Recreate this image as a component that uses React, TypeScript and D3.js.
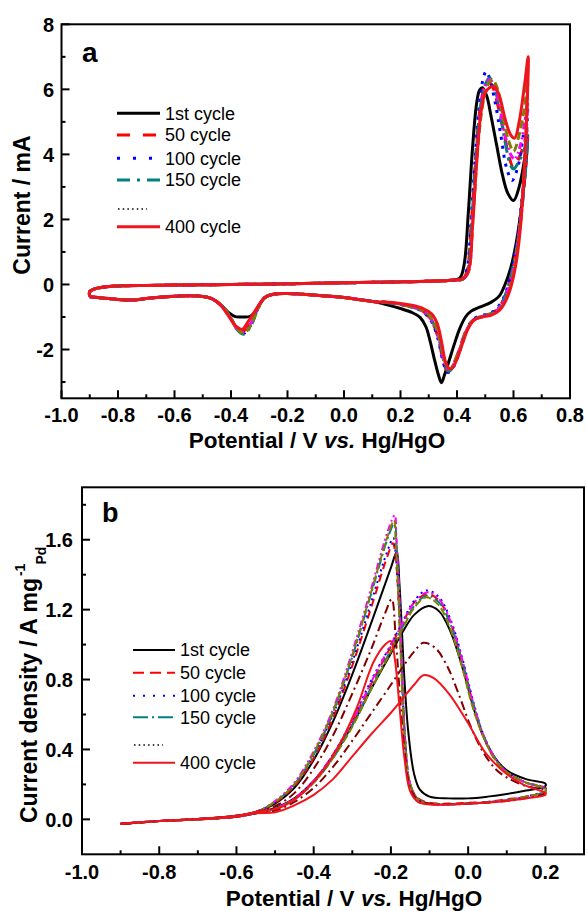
import React, { useEffect } from 'react';
import * as d3 from 'd3';

type P = [number, number];

// ---------------- Panel a : CV in KOH (Current / mA) ----------------
const aXTicks = [-1.0, -0.8, -0.6, -0.4, -0.2, 0.0, 0.2, 0.4, 0.6, 0.8];
const aXMinor = [-0.9, -0.7, -0.5, -0.3, -0.1, 0.1, 0.3, 0.5, 0.7];
const aYTicks = [-2, 0, 2, 4, 6, 8];
const aYMinor = [-3, -1, 1, 3, 5, 7];

const aAnodicBase: P[] = [[-0.9,-0.37],[-0.9,-0.22],[-0.88,-0.13],[-0.84,-0.07],[-0.78,-0.04],[-0.7,-0.03],[-0.6,-0.02],[-0.5,-0.01],[-0.4,0.0],[-0.3,0.01],[-0.2,0.02],[-0.1,0.035],[0,0.05],[0.1,0.065],[0.2,0.08],[0.3,0.1],[0.38,0.13]];
const aReturnMid: P[] = [[0.1,-0.52],[0.05,-0.46],[0,-0.4],[-0.1,-0.33],[-0.2,-0.28],[-0.25,-0.3]];
const aReturnTail: P[] = [[-0.5,-0.37],[-0.55,-0.35],[-0.6,-0.36],[-0.65,-0.39],[-0.7,-0.43],[-0.75,-0.48],[-0.8,-0.46],[-0.85,-0.42],[-0.9,-0.38]];

const a1stAnodic: P[] = [[0.41,0.2],[0.425,0.6],[0.44,2.2],[0.455,4.2],[0.47,5.6],[0.48,5.98],[0.49,6.05],[0.505,5.8],[0.52,5.2],[0.54,4.3],[0.56,3.4],[0.58,2.8],[0.6,2.58],[0.62,3.0],[0.64,3.9],[0.65,4.5]];
const a1stCathodic: P[] = [[0.645,3.8],[0.63,2.5],[0.61,1.3],[0.59,0.5],[0.57,0.0],[0.55,-0.35],[0.52,-0.55],[0.48,-0.7],[0.45,-0.82],[0.43,-1.0],[0.41,-1.35],[0.39,-1.85],[0.37,-2.4],[0.355,-2.8],[0.345,-3.02],[0.335,-2.8],[0.32,-2.3],[0.305,-1.75],[0.29,-1.3],[0.27,-1.02],[0.24,-0.86],[0.2,-0.74],[0.15,-0.62]];
const a1stDip: P[] = [[-0.28,-0.4],[-0.3,-0.62],[-0.32,-0.9],[-0.335,-0.99],[-0.36,-1.0],[-0.385,-0.99],[-0.41,-0.85],[-0.44,-0.6],[-0.47,-0.43]];

const a50Anodic: P[] = [[0.42,0.16],[0.435,0.4],[0.45,1.8],[0.465,3.8],[0.48,5.3],[0.495,6.0],[0.51,6.25],[0.525,6.1],[0.545,5.5],[0.565,4.7],[0.585,3.9],[0.6,3.6],[0.62,3.9],[0.64,4.4],[0.65,4.8]];
const a50Cathodic: P[] = [[0.646,4.0],[0.635,2.8],[0.62,1.6],[0.6,0.6],[0.58,-0.1],[0.56,-0.55],[0.53,-0.85],[0.5,-0.95],[0.47,-1.02],[0.45,-1.15],[0.43,-1.45],[0.41,-1.95],[0.39,-2.4],[0.375,-2.62],[0.365,-2.65],[0.35,-2.3],[0.335,-1.7],[0.315,-1.2],[0.29,-0.9],[0.26,-0.74],[0.21,-0.63],[0.16,-0.56]];
const a50Dip: P[] = [[-0.28,-0.4],[-0.305,-0.72],[-0.33,-1.18],[-0.36,-1.45],[-0.38,-1.35],[-0.405,-1.0],[-0.435,-0.65],[-0.47,-0.43]];

const a100Anodic: P[] = [[0.42,0.16],[0.435,0.45],[0.45,2.0],[0.465,4.0],[0.48,5.6],[0.492,6.3],[0.503,6.55],[0.515,6.35],[0.535,5.6],[0.555,4.6],[0.575,3.6],[0.595,3.2],[0.615,3.6],[0.635,4.6],[0.65,5.5]];
const a100Cathodic: P[] = [[0.646,4.6],[0.635,3.2],[0.62,1.8],[0.6,0.7],[0.58,-0.05],[0.56,-0.5],[0.53,-0.82],[0.5,-0.93],[0.47,-1.0],[0.45,-1.15],[0.43,-1.5],[0.41,-2.05],[0.39,-2.5],[0.375,-2.68],[0.365,-2.7],[0.35,-2.35],[0.335,-1.75],[0.315,-1.22],[0.29,-0.92],[0.26,-0.75],[0.21,-0.63],[0.16,-0.56]];
const a100Dip: P[] = [[-0.28,-0.4],[-0.305,-0.75],[-0.33,-1.25],[-0.355,-1.5],[-0.375,-1.4],[-0.4,-1.05],[-0.43,-0.68],[-0.47,-0.43]];

const a150Anodic: P[] = [[0.42,0.16],[0.437,0.4],[0.452,1.9],[0.467,3.9],[0.482,5.4],[0.5,6.15],[0.515,6.35],[0.53,6.15],[0.55,5.4],[0.57,4.4],[0.588,3.7],[0.6,3.55],[0.62,3.8],[0.64,4.2],[0.65,4.6]];
const a150Cathodic: P[] = [[0.646,3.9],[0.635,2.8],[0.62,1.6],[0.6,0.6],[0.58,-0.1],[0.56,-0.55],[0.53,-0.86],[0.5,-0.96],[0.47,-1.03],[0.45,-1.17],[0.43,-1.5],[0.41,-2.0],[0.39,-2.45],[0.378,-2.63],[0.37,-2.66],[0.355,-2.4],[0.34,-1.8],[0.32,-1.25],[0.295,-0.93],[0.265,-0.76],[0.21,-0.63],[0.16,-0.56]];
const a150Dip: P[] = [[-0.28,-0.4],[-0.305,-0.76],[-0.33,-1.28],[-0.355,-1.53],[-0.375,-1.42],[-0.4,-1.05],[-0.43,-0.68],[-0.47,-0.43]];

const a200Anodic: P[] = [[0.42,0.16],[0.44,0.4],[0.455,1.9],[0.47,3.9],[0.485,5.4],[0.5,6.1],[0.515,6.3],[0.53,6.15],[0.55,5.5],[0.57,4.6],[0.59,4.0],[0.605,3.85],[0.625,4.3],[0.64,5.0],[0.65,5.7]];
const a200Cathodic: P[] = [[0.646,4.7],[0.636,3.2],[0.622,1.8],[0.603,0.6],[0.583,-0.1],[0.563,-0.55],[0.533,-0.86],[0.5,-0.96],[0.47,-1.03],[0.45,-1.17],[0.43,-1.48],[0.41,-1.98],[0.39,-2.42],[0.378,-2.6],[0.37,-2.62],[0.355,-2.38],[0.34,-1.78],[0.32,-1.24],[0.295,-0.92],[0.265,-0.75],[0.21,-0.62],[0.16,-0.56]];
const a200Dip: P[] = [[-0.28,-0.4],[-0.305,-0.72],[-0.33,-1.2],[-0.358,-1.46],[-0.378,-1.36],[-0.403,-1.0],[-0.433,-0.65],[-0.47,-0.43]];

const a250Anodic: P[] = [[0.42,0.16],[0.44,0.38],[0.455,1.8],[0.47,3.8],[0.487,5.3],[0.505,6.05],[0.525,6.3],[0.54,6.1],[0.56,5.3],[0.58,4.5],[0.6,4.1],[0.62,4.6],[0.64,5.5],[0.65,6.3]];
const a250Cathodic: P[] = [[0.646,5.0],[0.637,3.4],[0.623,1.8],[0.605,0.6],[0.585,-0.15],[0.565,-0.6],[0.535,-0.88],[0.5,-0.97],[0.47,-1.04],[0.45,-1.18],[0.43,-1.5],[0.41,-2.0],[0.39,-2.42],[0.38,-2.58],[0.372,-2.6],[0.357,-2.38],[0.342,-1.78],[0.322,-1.23],[0.297,-0.9],[0.267,-0.74],[0.21,-0.62],[0.16,-0.56]];
const a250Dip: P[] = [[-0.28,-0.4],[-0.305,-0.75],[-0.33,-1.25],[-0.355,-1.5],[-0.375,-1.4],[-0.4,-1.04],[-0.43,-0.67],[-0.47,-0.43]];

const a400Anodic: P[] = [[0.42,0.18],[0.44,0.4],[0.455,1.8],[0.47,3.8],[0.485,5.3],[0.5,5.9],[0.515,6.05],[0.533,6.08],[0.55,5.8],[0.57,5.1],[0.59,4.6],[0.604,4.5],[0.62,5.0],[0.64,6.2],[0.652,7.0]];
const a400Cathodic: P[] = [[0.648,5.5],[0.638,3.5],[0.625,1.8],[0.61,0.7],[0.59,-0.1],[0.57,-0.55],[0.55,-0.8],[0.52,-0.95],[0.49,-1.0],[0.46,-1.1],[0.44,-1.35],[0.42,-1.8],[0.4,-2.3],[0.385,-2.55],[0.375,-2.6],[0.36,-2.4],[0.345,-1.75],[0.33,-1.2],[0.31,-0.9],[0.28,-0.74],[0.24,-0.64],[0.18,-0.56]];
const a400Dip: P[] = [[-0.28,-0.4],[-0.31,-0.75],[-0.34,-1.15],[-0.36,-1.38],[-0.38,-1.3],[-0.41,-0.95],[-0.44,-0.6],[-0.47,-0.43]];

// ---------------- Panel b : ethanol oxidation (A mg-1 Pd) ----------------
const bXTicks = [-1.0, -0.8, -0.6, -0.4, -0.2, 0.0, 0.2];
const bXMinor = [-0.9, -0.7, -0.5, -0.3, -0.1, 0.1];
const bYTicks = [0.0, 0.4, 0.8, 1.2, 1.6];
const bYMinor = [0.2, 0.6, 1.0, 1.4, 1.8];

const bForwardBase: P[] = [[-0.9,-0.025],[-0.8,-0.01],[-0.7,0.0],[-0.6,0.015],[-0.55,0.035]];
const bReverseTail: P[] = [[-0.55,0.042],[-0.6,0.02],[-0.7,0.002],[-0.8,-0.01],[-0.9,-0.027]];

const b1stForward: P[] = [[-0.5,0.065],[-0.45,0.12],[-0.4,0.22],[-0.35,0.36],[-0.3,0.54],[-0.25,0.75],[-0.2,0.95],[-0.17,1.07],[-0.14,1.17],[-0.105,1.22],[-0.075,1.19],[-0.045,1.07],[-0.015,0.87],[0.015,0.63],[0.04,0.47],[0.07,0.35],[0.1,0.28],[0.15,0.23],[0.2,0.205]];
const b1stReverse: P[] = [[0.2,0.19],[0.15,0.165],[0.1,0.145],[0.05,0.13],[0.0,0.12],[-0.05,0.12],[-0.1,0.13],[-0.125,0.17],[-0.14,0.26],[-0.155,0.5],[-0.165,0.8],[-0.172,1.1],[-0.178,1.35],[-0.185,1.53],[-0.2,1.44],[-0.25,1.13],[-0.3,0.83],[-0.35,0.56],[-0.4,0.34],[-0.45,0.18],[-0.5,0.09]];

const b50Forward: P[] = [[-0.5,0.06],[-0.45,0.12],[-0.4,0.22],[-0.35,0.37],[-0.3,0.56],[-0.25,0.78],[-0.2,0.99],[-0.17,1.12],[-0.14,1.24],[-0.105,1.29],[-0.075,1.25],[-0.045,1.12],[-0.015,0.9],[0.015,0.64],[0.04,0.47],[0.07,0.34],[0.1,0.27],[0.15,0.21],[0.2,0.18]];
const b50Reverse: P[] = [[0.2,0.16],[0.15,0.13],[0.1,0.115],[0.05,0.1],[0.0,0.095],[-0.05,0.09],[-0.1,0.095],[-0.13,0.12],[-0.15,0.2],[-0.163,0.45],[-0.172,0.85],[-0.18,1.25],[-0.188,1.5],[-0.195,1.58],[-0.21,1.5],[-0.25,1.22],[-0.3,0.88],[-0.35,0.58],[-0.4,0.35],[-0.45,0.19],[-0.5,0.095]];

const b100Forward: P[] = [[-0.5,0.062],[-0.45,0.12],[-0.4,0.22],[-0.35,0.37],[-0.3,0.57],[-0.25,0.8],[-0.2,1.0],[-0.17,1.13],[-0.14,1.25],[-0.107,1.31],[-0.075,1.27],[-0.045,1.14],[-0.015,0.92],[0.015,0.66],[0.04,0.48],[0.07,0.35],[0.1,0.27],[0.15,0.21],[0.2,0.18]];
const b100Reverse: P[] = [[0.2,0.165],[0.15,0.13],[0.1,0.11],[0.05,0.1],[0.0,0.09],[-0.05,0.085],[-0.1,0.09],[-0.13,0.115],[-0.15,0.2],[-0.163,0.45],[-0.172,0.85],[-0.18,1.25],[-0.187,1.5],[-0.194,1.61],[-0.21,1.53],[-0.25,1.25],[-0.3,0.9],[-0.35,0.6],[-0.4,0.37],[-0.45,0.2],[-0.5,0.1]];

const b150Forward: P[] = [[-0.5,0.06],[-0.45,0.115],[-0.4,0.21],[-0.35,0.35],[-0.3,0.54],[-0.25,0.76],[-0.2,0.97],[-0.17,1.1],[-0.14,1.22],[-0.107,1.28],[-0.075,1.24],[-0.045,1.11],[-0.015,0.9],[0.015,0.65],[0.04,0.48],[0.07,0.35],[0.1,0.27],[0.15,0.21],[0.2,0.175]];
const b150Reverse: P[] = [[0.2,0.16],[0.15,0.13],[0.1,0.11],[0.0,0.09],[-0.1,0.09],[-0.13,0.115],[-0.15,0.2],[-0.163,0.45],[-0.172,0.9],[-0.18,1.35],[-0.186,1.6],[-0.19,1.7],[-0.205,1.63],[-0.25,1.3],[-0.3,0.93],[-0.35,0.61],[-0.4,0.37],[-0.45,0.2],[-0.5,0.1]];

const b200Forward: P[] = [[-0.5,0.062],[-0.45,0.12],[-0.4,0.22],[-0.35,0.37],[-0.3,0.56],[-0.25,0.79],[-0.2,1.0],[-0.17,1.12],[-0.14,1.24],[-0.105,1.3],[-0.075,1.26],[-0.045,1.13],[-0.015,0.91],[0.015,0.65],[0.04,0.48],[0.07,0.35],[0.1,0.27],[0.15,0.21],[0.2,0.175]];
const b200Reverse: P[] = [[0.2,0.16],[0.15,0.13],[0.1,0.11],[0.0,0.09],[-0.1,0.088],[-0.13,0.115],[-0.15,0.2],[-0.163,0.45],[-0.172,0.92],[-0.18,1.38],[-0.186,1.62],[-0.19,1.74],[-0.205,1.67],[-0.25,1.33],[-0.3,0.96],[-0.35,0.63],[-0.4,0.39],[-0.45,0.21],[-0.5,0.105]];

const b250Forward: P[] = [[-0.5,0.06],[-0.45,0.115],[-0.4,0.21],[-0.35,0.35],[-0.3,0.53],[-0.25,0.75],[-0.2,0.96],[-0.17,1.09],[-0.14,1.21],[-0.11,1.27],[-0.078,1.23],[-0.048,1.1],[-0.018,0.89],[0.012,0.64],[0.04,0.47],[0.07,0.34],[0.1,0.27],[0.15,0.21],[0.2,0.175]];
const b250Reverse: P[] = [[0.2,0.16],[0.15,0.13],[0.1,0.11],[0.0,0.09],[-0.1,0.09],[-0.13,0.115],[-0.15,0.2],[-0.164,0.45],[-0.174,0.9],[-0.182,1.35],[-0.188,1.6],[-0.192,1.71],[-0.207,1.63],[-0.25,1.31],[-0.3,0.94],[-0.35,0.62],[-0.4,0.38],[-0.45,0.2],[-0.5,0.1]];

const b300Forward: P[] = [[-0.5,0.05],[-0.45,0.1],[-0.4,0.18],[-0.35,0.3],[-0.3,0.45],[-0.25,0.61],[-0.2,0.77],[-0.17,0.87],[-0.14,0.96],[-0.116,1.01],[-0.085,0.98],[-0.055,0.88],[-0.025,0.72],[0.005,0.54],[0.035,0.4],[0.07,0.29],[0.1,0.24],[0.15,0.19],[0.2,0.165]];
const b300Reverse: P[] = [[0.2,0.15],[0.15,0.12],[0.1,0.105],[0.0,0.09],[-0.1,0.09],[-0.13,0.11],[-0.15,0.18],[-0.165,0.4],[-0.178,0.75],[-0.188,1.05],[-0.198,1.26],[-0.215,1.18],[-0.25,0.98],[-0.3,0.72],[-0.35,0.48],[-0.4,0.29],[-0.45,0.15],[-0.5,0.075]];

const b400Forward: P[] = [[-0.5,0.04],[-0.45,0.08],[-0.4,0.14],[-0.35,0.23],[-0.3,0.36],[-0.25,0.49],[-0.2,0.61],[-0.17,0.69],[-0.14,0.77],[-0.116,0.825],[-0.09,0.81],[-0.05,0.72],[0.0,0.55],[0.045,0.38],[0.094,0.27],[0.142,0.2],[0.2,0.15]];
const b400Reverse: P[] = [[0.2,0.14],[0.15,0.12],[0.1,0.105],[0.0,0.09],[-0.1,0.085],[-0.13,0.1],[-0.15,0.16],[-0.165,0.35],[-0.178,0.65],[-0.19,0.92],[-0.2,1.02],[-0.215,1.0],[-0.245,0.9],[-0.29,0.63],[-0.34,0.4],[-0.39,0.24],[-0.44,0.13],[-0.49,0.065]];

const legendLabels = ['1st cycle', '50 cycle', '100 cycle', '150 cycle', '', '400 cycle'];

// ---------------- styles ----------------
const FONT = "'Liberation Sans', Arial, Helvetica, sans-serif";
const styleA: Record<string, { color: string; dash: string | null; ldash: string | null }> = {
  s1: { color: '#000000', dash: null, ldash: null },
  s50: { color: '#ff0000', dash: '12,8', ldash: '13,13' },
  s100: { color: '#0000ff', dash: '3,6', ldash: '3,13' },
  s150: { color: '#008080', dash: '12,5,3,5', ldash: '13,7,3,7' },
  s200: { color: '#ff00ff', dash: '7,3,2,3,2,3', ldash: null },
  s250: { color: '#808000', dash: '8,4', ldash: null },
  s400: { color: '#f0141e', dash: null, ldash: null },
};
const styleB: Record<string, { color: string; dash: string | null; ldash: string | null }> = {
  s1: { color: '#000000', dash: null, ldash: null },
  s50: { color: '#ff0000', dash: '8,5', ldash: '11,6' },
  s100: { color: '#0000ff', dash: '2,4', ldash: '2,8' },
  s150: { color: '#008080', dash: '10,3,2,3', ldash: '15,4,2,4' },
  s200: { color: '#ff00ff', dash: '7,3,2,3,2,3', ldash: null },
  s250: { color: '#808000', dash: '8,3', ldash: null },
  s300: { color: '#800000', dash: '9,4,2,4', ldash: null },
  s400: { color: '#f0141e', dash: null, ldash: null },
};

const aSeries: { key: string; pts: P[] }[] = [
  { key: 's1', pts: [...aAnodicBase, ...a1stAnodic, ...a1stCathodic, ...aReturnMid, ...a1stDip, ...aReturnTail] },
  { key: 's50', pts: [...aAnodicBase, ...a50Anodic, ...a50Cathodic, ...aReturnMid, ...a50Dip, ...aReturnTail] },
  { key: 's100', pts: [...aAnodicBase, ...a100Anodic, ...a100Cathodic, ...aReturnMid, ...a100Dip, ...aReturnTail] },
  { key: 's150', pts: [...aAnodicBase, ...a150Anodic, ...a150Cathodic, ...aReturnMid, ...a150Dip, ...aReturnTail] },
  { key: 's200', pts: [...aAnodicBase, ...a200Anodic, ...a200Cathodic, ...aReturnMid, ...a200Dip, ...aReturnTail] },
  { key: 's250', pts: [...aAnodicBase, ...a250Anodic, ...a250Cathodic, ...aReturnMid, ...a250Dip, ...aReturnTail] },
  { key: 's400', pts: [...aAnodicBase, ...a400Anodic, ...a400Cathodic, ...aReturnMid, ...a400Dip, ...aReturnTail] },
];
const bSeries: { key: string; pts: P[] }[] = [
  { key: 's1', pts: [...bForwardBase, ...b1stForward, ...b1stReverse, ...bReverseTail] },
  { key: 's50', pts: [...bForwardBase, ...b50Forward, ...b50Reverse, ...bReverseTail] },
  { key: 's100', pts: [...bForwardBase, ...b100Forward, ...b100Reverse, ...bReverseTail] },
  { key: 's150', pts: [...bForwardBase, ...b150Forward, ...b150Reverse, ...bReverseTail] },
  { key: 's200', pts: [...bForwardBase, ...b200Forward, ...b200Reverse, ...bReverseTail] },
  { key: 's250', pts: [...bForwardBase, ...b250Forward, ...b250Reverse, ...bReverseTail] },
  { key: 's300', pts: [...bForwardBase, ...b300Forward, ...b300Reverse, ...bReverseTail] },
  { key: 's400', pts: [...bForwardBase, ...b400Forward, ...b400Reverse, ...bReverseTail] },
];
const legendKeys = ['s1', 's50', 's100', 's150', 'dots', 's400'];

// ---------------- components ----------------
function Frame(props: {
  x: d3.ScaleLinear<number, number>; y: d3.ScaleLinear<number, number>;
  xt: number[]; xm: number[]; yt: number[]; ym: number[];
  xfmt: (v: number) => string; yfmt: (v: number) => string;
  xLabelY: number; yLabelX: number;
}) {
  const { x, y, xt, xm, yt, ym, xfmt, yfmt, xLabelY, yLabelX } = props;
  const [x0, x1] = x.range();
  const [y0, y1] = y.range();
  const major = 8, minor = 4;
  return (
    <g>
      <rect x={x0} y={y1} width={x1 - x0} height={y0 - y1} fill="none" stroke="#000" strokeWidth={2} />
      {xt.map((v) => <line key={'xt' + v} x1={x(v)} x2={x(v)} y1={y0} y2={y0 - major} stroke="#000" strokeWidth={2} />)}
      {xm.map((v) => <line key={'xm' + v} x1={x(v)} x2={x(v)} y1={y0} y2={y0 - minor} stroke="#000" strokeWidth={2} />)}
      {yt.map((v) => <line key={'yt' + v} x1={x0} x2={x0 + major} y1={y(v)} y2={y(v)} stroke="#000" strokeWidth={2} />)}
      {ym.map((v) => <line key={'ym' + v} x1={x0} x2={x0 + minor} y1={y(v)} y2={y(v)} stroke="#000" strokeWidth={2} />)}
      {xt.map((v) => (
        <text key={'xl' + v} x={x(v)} y={xLabelY} textAnchor="middle" fontFamily={FONT} fontWeight="bold" fontSize={20}>{xfmt(v)}</text>
      ))}
      {yt.map((v) => (
        <text key={'yl' + v} x={yLabelX} y={y(v)} dy="0.36em" textAnchor="end" fontFamily={FONT} fontWeight="bold" fontSize={20}>{yfmt(v)}</text>
      ))}
    </g>
  );
}

function Legend(props: { x0: number; x1: number; tx: number; rows: number[]; styles: typeof styleA; width: number; dotEnd: number }) {
  const { x0, x1, tx, rows, styles, width, dotEnd } = props;
  return (
    <g>
      {legendKeys.map((k, i) => {
        const yy = rows[i];
        if (k === 'dots') {
          return <line key={k} x1={x0 + 1} x2={dotEnd} y1={yy} y2={yy} stroke="#000" strokeWidth={1.5} strokeDasharray="1.5,3.2" />;
        }
        const s = styles[k];
        return (
          <g key={k}>
            <line x1={x0} x2={x1} y1={yy} y2={yy} stroke={s.color} strokeWidth={width} strokeDasharray={s.ldash || undefined} />
            <text x={tx} y={yy} dy="0.36em" fontFamily={FONT} fontSize={18} fill="#000">{legendLabels[i]}</text>
          </g>
        );
      })}
    </g>
  );
}

export default function App() {
  useEffect(() => {
    document.body.style.margin = '0';
  }, []);

  const xa = d3.scaleLinear().domain([-1.0, 0.8]).range([61.5, 570]);
  const ya = d3.scaleLinear().domain([-3.5, 8]).range([398.3, 24.3]);
  const xb = d3.scaleLinear().domain([-1.0, 0.3]).range([82, 584]);
  const yb = d3.scaleLinear().domain([-0.2, 1.9]).range([854.3, 487.3]);

  const lineA = d3.line<P>().x((d) => xa(d[0])).y((d) => ya(d[1])).curve(d3.curveCatmullRom.alpha(0.5));
  const lineB = d3.line<P>().x((d) => xb(d[0])).y((d) => yb(d[1])).curve(d3.curveCatmullRom.alpha(0.5));

  const fmt1 = (v: number) => (Math.abs(v) < 1e-9 ? '0.0' : v.toFixed(1));
  const fmt0 = (v: number) => String(v);

  return (
    <svg width={587} height={911} viewBox="0 0 587 911" style={{ display: 'block', position: 'absolute', left: 0, top: 0, background: '#fff' }}>
      <rect x={0} y={0} width={587} height={911} fill="#fff" />
      {/* Panel a */}
      <g>
        {aSeries.map((s) => {
          const st = styleA[s.key];
          return <path key={s.key} d={lineA(s.pts) || ''} fill="none" stroke={st.color} strokeWidth={3} strokeDasharray={st.dash || undefined} strokeLinejoin="round" />;
        })}
        <Frame x={xa} y={ya} xt={aXTicks} xm={aXMinor} yt={aYTicks} ym={aYMinor} xfmt={fmt1} yfmt={fmt0} xLabelY={422} yLabelX={54} />
        <text x={82} y={62} fontFamily={FONT} fontWeight="bold" fontSize={28}>a</text>
        <Legend x0={117} x1={160} tx={165} rows={[113.3, 135, 158.3, 180, 209, 226.7]} styles={styleA} width={3} dotEnd={147} />
        <text x={317} y={448} textAnchor="middle" fontFamily={FONT} fontWeight="bold" fontSize={22.5}>
          Potential / V <tspan fontStyle="italic">vs.</tspan> Hg/HgO
        </text>
        <text transform="translate(30,205) rotate(-90)" textAnchor="middle" fontFamily={FONT} fontWeight="bold" fontSize={23}>Current / mA</text>
      </g>
      {/* Panel b */}
      <g>
        {bSeries.map((s) => {
          const st = styleB[s.key];
          return <path key={s.key} d={lineB(s.pts) || ''} fill="none" stroke={st.color} strokeWidth={2} strokeDasharray={st.dash || undefined} strokeLinejoin="round" />;
        })}
        <Frame x={xb} y={yb} xt={bXTicks} xm={bXMinor} yt={bYTicks} ym={bYMinor} xfmt={fmt1} yfmt={fmt1} xLabelY={879} yLabelX={73} />
        <text x={102} y={522} fontFamily={FONT} fontWeight="bold" fontSize={27}>b</text>
        <Legend x0={133} x1={175} tx={180} rows={[650, 672.7, 695.7, 717.3, 745, 762.7]} styles={styleB} width={2} dotEnd={163} />
        <text x={354} y={906} textAnchor="middle" fontFamily={FONT} fontWeight="bold" fontSize={22.5}>
          Potential / V <tspan fontStyle="italic">vs.</tspan> Hg/HgO
        </text>
        <text transform="translate(37,823) rotate(-90)" textAnchor="start" fontFamily={FONT} fontWeight="bold" fontSize={23}>
          Current density / A mg<tspan fontSize={14} dy={-12} dx={2}>-1</tspan><tspan fontSize={14} dy={21} dx={-1}>Pd</tspan>
        </text>
      </g>
    </svg>
  );
}
